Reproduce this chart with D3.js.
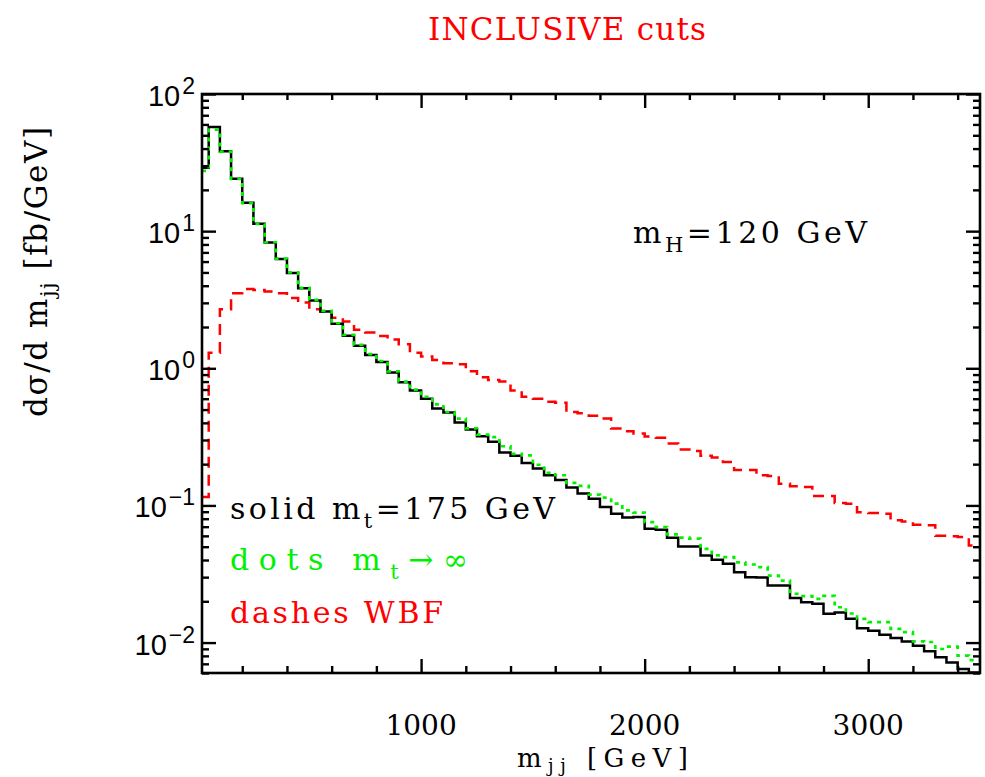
<!DOCTYPE html>
<html>
<head>
<meta charset="utf-8">
<script src="https://cdn.jsdelivr.net/npm/d3@7"></script>
<style>
  body { margin: 0; background: #fff; }
  svg { display: block; }
  .serif { font-family: "DejaVu Serif", "Liberation Serif", serif; }
  .sans { font-family: "Liberation Sans", Arial, sans-serif; }
  .tick line { stroke: #000; stroke-width: 2.4; }
</style>
</head>
<body>
<div id="chart"></div>
<script>
// m_jj distribution, inclusive cuts: gluon fusion with m_t = 175 GeV (solid),
// m_t -> infinity limit (dots) and weak boson fusion (dashes). 50 GeV bins,
// the first one clipped at the left edge of the frame (20 GeV).
const BIN_EDGES = [20, 50, 100, 150, 200, 250, 300, 350, 400, 450, 500, 550, 600, 650, 700, 750,
  800, 850, 900, 950, 1000, 1050, 1100, 1150, 1200, 1250, 1300, 1350, 1400, 1450, 1500, 1550,
  1600, 1650, 1700, 1750, 1800, 1850, 1900, 1950, 2000, 2050, 2100, 2150, 2200, 2250, 2300, 2350,
  2400, 2450, 2500, 2550, 2600, 2650, 2700, 2750, 2800, 2850, 2900, 2950, 3000, 3050, 3100, 3150,
  3200, 3250, 3300, 3350, 3400, 3450, 3500];

// dsigma/dm_jj [fb/GeV], one value per bin
const SOLID_MT175 = [29.0, 57.4, 38.3, 24.1, 16.1, 11.3, 8.28, 6.26, 4.95, 3.84, 3.12, 2.59, 2.11, 1.73,
  1.46, 1.25, 1.11, 0.93, 0.79, 0.69, 0.60, 0.51, 0.477, 0.403, 0.358, 0.320, 0.291, 0.243, 0.230,
  0.204, 0.186, 0.166, 0.153, 0.135, 0.122, 0.112, 0.0973, 0.0871, 0.0818, 0.0823, 0.0677, 0.0665,
  0.0582, 0.0502, 0.0502, 0.0432, 0.0402, 0.0376, 0.0326, 0.0300, 0.0298, 0.0261, 0.0261, 0.0211,
  0.0197, 0.0192, 0.0162, 0.0166, 0.0149, 0.0127, 0.0122, 0.0114, 0.0108, 0.0102, 0.00949, 0.00863,
  0.00780, 0.00716, 0.00641, 0.00605];
const DOTS_MTINF = [27.5, 55.0, 38.0, 24.0, 16.0, 11.3, 8.3, 6.3, 5.0, 3.86, 3.15, 2.62, 2.13, 1.75,
  1.48, 1.27, 1.13, 0.95, 0.80, 0.70, 0.62, 0.545, 0.48, 0.43, 0.365, 0.328, 0.315, 0.27, 0.238,
  0.232, 0.198, 0.173, 0.166, 0.146, 0.139, 0.120, 0.114, 0.103, 0.092, 0.0886, 0.0756, 0.0695,
  0.0615, 0.0582, 0.0572, 0.0483, 0.0432, 0.0420, 0.0385, 0.0371, 0.0355, 0.0308, 0.0283, 0.0227,
  0.0218, 0.0208, 0.0219, 0.0181, 0.0163, 0.0149, 0.0141, 0.0141, 0.0126, 0.0119, 0.0102, 0.0101,
  0.00898, 0.00933, 0.00802, 0.00746];
const DASHES_WBF = [0.115, 1.30, 2.70, 3.53, 3.78, 3.72, 3.63, 3.53, 3.25, 3.02, 2.70, 2.59, 2.34, 2.19,
  1.91, 1.82, 1.72, 1.62, 1.50, 1.30, 1.22, 1.15, 1.09, 1.07, 0.95, 0.86, 0.82, 0.80, 0.69, 0.62,
  0.60, 0.57, 0.56, 0.48, 0.47, 0.45, 0.43, 0.364, 0.348, 0.335, 0.318, 0.311, 0.283, 0.256, 0.249,
  0.230, 0.224, 0.207, 0.181, 0.181, 0.166, 0.164, 0.144, 0.138, 0.136, 0.117, 0.117, 0.104, 0.103,
  0.089, 0.088, 0.087, 0.078, 0.0763, 0.0724, 0.0716, 0.060, 0.0595, 0.0589, 0.051];

const X_MAJOR = [1000, 2000, 3000];
const X_LABELS = ["1000", "2000", "3000"];
const Y_MAJOR = [0.01, 0.1, 1, 10, 100];
const Y_EXPONENTS = ["\u22122", "\u22121", "0", "1", "2"];

const RED = "#ff0000", GREEN = "#00f000";

const W = 985, H = 777;
const m = { left: 202, right: 980, top: 94, bottom: 673 };

const svg = d3.select("#chart").append("svg")
  .attr("width", W).attr("height", H)
  .attr("viewBox", `0 0 ${W} ${H}`);
svg.append("rect").attr("width", W).attr("height", H).attr("fill", "#fff");

const x = d3.scaleLinear([20, 3500], [m.left, m.right]);
const y = d3.scaleLog([0.006, 100], [m.bottom, m.top]);

svg.append("clipPath").attr("id", "plot-clip").append("rect")
  .attr("x", m.left).attr("y", m.top)
  .attr("width", m.right - m.left).attr("height", m.bottom - m.top);

// Histograms as step outlines: each bin contributes its two edges at its height.
const steps = (vals) => vals.flatMap((v, i) => [[BIN_EDGES[i], v], [BIN_EDGES[i + 1], v]]);
const line = d3.line().x((d) => x(d[0])).y((d) => y(d[1]));
const plot = svg.append("g").attr("clip-path", "url(#plot-clip)");

plot.append("path").datum(steps(DASHES_WBF)).attr("d", line)
  .attr("fill", "none").attr("stroke", RED).attr("stroke-width", 2.5)
  .attr("stroke-dasharray", "11 7");
plot.append("path").datum(steps(SOLID_MT175)).attr("d", line)
  .attr("fill", "none").attr("stroke", "#000").attr("stroke-width", 2.5);
plot.append("path").datum(steps(DOTS_MTINF)).attr("d", line)
  .attr("fill", "none").attr("stroke", GREEN).attr("stroke-width", 2.7)
  .attr("stroke-dasharray", "4 5");

// Inward ticks on all four sides.
const yMinor = y.ticks().filter((t) => !Y_MAJOR.some((v) => Math.abs(v - t) / v < 1e-6));
const xMinor = x.ticks(17).filter((t) => t % 1000 !== 0);
const axisGroup = (axis, tx, ty) => {
  const g = svg.append("g").attr("transform", `translate(${tx},${ty})`).call(axis);
  g.select(".domain").remove();
  g.selectAll("text").remove();
  return g;
};
axisGroup(d3.axisRight(y).tickValues(yMinor).tickSize(7), m.left, 0);
axisGroup(d3.axisRight(y).tickValues(Y_MAJOR).tickSize(14), m.left, 0);
axisGroup(d3.axisLeft(y).tickValues(yMinor).tickSize(7), m.right, 0);
axisGroup(d3.axisLeft(y).tickValues(Y_MAJOR).tickSize(14), m.right, 0);
axisGroup(d3.axisTop(x).tickValues(xMinor).tickSize(7), 0, m.bottom);
axisGroup(d3.axisTop(x).tickValues(X_MAJOR).tickSize(14), 0, m.bottom);
axisGroup(d3.axisBottom(x).tickValues(xMinor).tickSize(6), 0, m.top);
axisGroup(d3.axisBottom(x).tickValues(X_MAJOR).tickSize(14), 0, m.top);

svg.append("rect")
  .attr("x", m.left).attr("y", m.top)
  .attr("width", m.right - m.left).attr("height", m.bottom - m.top)
  .attr("fill", "none").attr("stroke", "#000").attr("stroke-width", 2.6);

// Tick labels.
svg.append("g").selectAll("text").data(X_MAJOR).join("text")
  .attr("class", "serif").attr("font-size", 28).attr("text-anchor", "middle")
  .attr("x", (d) => x(d)).attr("y", 735)
  .text((d, i) => X_LABELS[i]);

const yl = svg.append("g").selectAll("text").data(Y_MAJOR).join("text")
  .attr("class", "sans").attr("text-anchor", "end")
  .attr("x", 195).attr("y", (d) => y(d) + 12);
yl.append("tspan").attr("font-size", 29).text("10");
yl.append("tspan").attr("font-size", 23).attr("dy", -12).attr("dx", 2)
  .text((d, i) => Y_EXPONENTS[i]);

// Axis titles.
const ytitle = svg.append("text").attr("class", "serif").attr("font-size", 31)
  .attr("text-anchor", "middle")
  .attr("transform", "translate(47,272) rotate(-90)")
  .attr("textLength", 290).attr("lengthAdjust", "spacing");
ytitle.append("tspan").text("d\u03c3/d m");
ytitle.append("tspan").attr("font-size", 21).attr("dy", 8).text("jj");
ytitle.append("tspan").attr("dy", -8).text(" [fb/GeV]");

const xtitle = svg.append("text").attr("class", "serif").attr("font-size", 26)
  .attr("x", 517).attr("y", 767)
  .attr("textLength", 171).attr("lengthAdjust", "spacing");
xtitle.append("tspan").text("m");
xtitle.append("tspan").attr("font-size", 18).attr("dy", 5).text("jj");
xtitle.append("tspan").attr("dy", -5).text(" [GeV]");

// Annotations.
svg.append("text").attr("class", "serif").attr("font-size", 31).attr("fill", RED)
  .attr("x", 428).attr("y", 40).attr("textLength", 278).attr("lengthAdjust", "spacing")
  .text("INCLUSIVE cuts");

const label = (txt, sub, rest, px, py, len, color) => {
  const t = svg.append("text").attr("class", "serif").attr("font-size", 30).attr("fill", color)
    .attr("x", px).attr("y", py).attr("textLength", len).attr("lengthAdjust", "spacing");
  t.append("tspan").text(txt);
  t.append("tspan").attr("font-size", 21).attr("dy", 9).text(sub);
  t.append("tspan").attr("dy", -9).text(rest);
  return t;
};
label("m", "H", "=120 GeV", 633, 243, 234, "#000");
label("solid m", "t", "=175 GeV", 230, 519, 325, "#000");
label("dots m", "t", "\u2192\u221e", 230, 570, 238, GREEN);
label("dashes WBF", "", "", 230, 623, 213, RED);
</script>
</body>
</html>
